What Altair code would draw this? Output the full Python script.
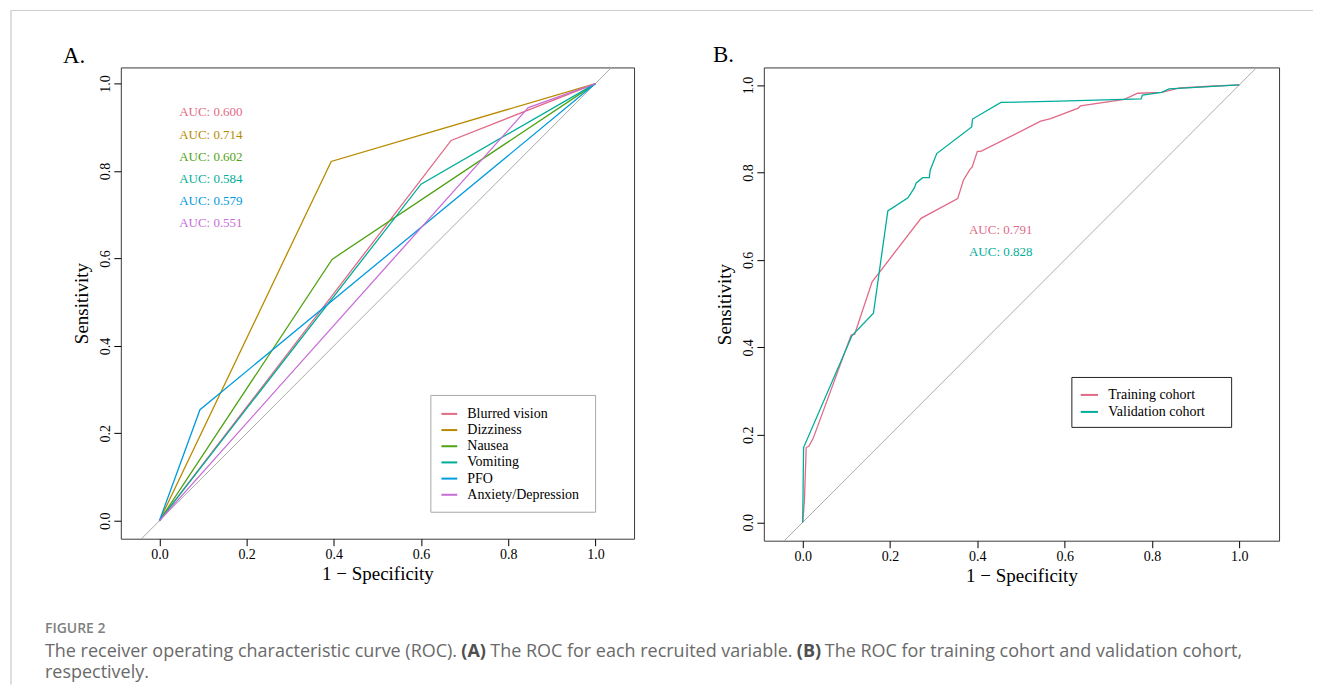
import altair as alt
import pandas as pd

# ---------------- Panel A data ----------------
series_a = ["Blurred vision", "Dizziness", "Nausea", "Vomiting", "PFO", "Anxiety/Depression"]
colors_a = ["#E16A86", "#B88A00", "#50A315", "#00AD9A", "#009ADE", "#C86DD7"]
auc_a = ["AUC: 0.600", "AUC: 0.714", "AUC: 0.602", "AUC: 0.584", "AUC: 0.579", "AUC: 0.551"]

fpr_blurred = [0.0, 0.669, 1.0]
tpr_blurred = [0.0, 0.870, 1.0]
fpr_dizziness = [0.0, 0.394, 1.0]
tpr_dizziness = [0.0, 0.822, 1.0]
fpr_nausea = [0.0, 0.396, 1.0]
tpr_nausea = [0.0, 0.598, 1.0]
fpr_vomiting = [0.0, 0.600, 1.0]
tpr_vomiting = [0.0, 0.770, 1.0]
fpr_pfo = [0.0, 0.093, 1.0]
tpr_pfo = [0.0, 0.254, 1.0]
fpr_anxiety = [0.0, 0.846, 1.0]
tpr_anxiety = [0.0, 0.945, 1.0]

# ---------------- Panel B data ----------------
series_b = ["Training cohort", "Validation cohort"]
colors_b = ["#E16A86", "#00AD9A"]
auc_b = ["AUC: 0.791", "AUC: 0.828"]

fpr_train = [0.0, 0.004, 0.008, 0.014, 0.024, 0.111, 0.119, 0.159, 0.271, 0.355, 0.368,
             0.383, 0.388, 0.400, 0.408, 0.545, 0.568, 0.631, 0.636, 0.737, 0.767, 0.822,
             0.864, 0.932, 1.0]
tpr_train = [0.0, 0.050, 0.171, 0.174, 0.192, 0.428, 0.430, 0.550, 0.695, 0.740, 0.782,
             0.807, 0.812, 0.848, 0.848, 0.917, 0.923, 0.947, 0.952, 0.967, 0.981, 0.983,
             0.993, 0.997, 1.0]
fpr_valid = [0.0, 0.002, 0.113, 0.162, 0.195, 0.241, 0.256, 0.260, 0.275, 0.290, 0.292,
             0.307, 0.387, 0.389, 0.454, 0.587, 0.775, 0.778, 0.822, 0.839, 1.0]
tpr_valid = [0.0, 0.171, 0.427, 0.478, 0.712, 0.742, 0.765, 0.776, 0.788, 0.788, 0.805,
             0.843, 0.904, 0.922, 0.960, 0.963, 0.968, 0.977, 0.983, 0.991, 1.0]

diag_vals = [-0.2, 1.2]
tick_vals = [0.0, 0.2, 0.4, 0.6, 0.8, 1.0]

caption_label = "FIGURE 2"
caption_seg1 = "The receiver operating characteristic curve (ROC)."
caption_seg2 = "(A)"
caption_seg3 = "The ROC for each recruited variable."
caption_seg4 = "(B)"
caption_seg5 = "The ROC for training cohort and validation cohort,"
caption_line2 = "respectively."

SERIF = "Liberation Serif"
SANS = "Open Sans"
NBSP = "\u00a0"


def build_df(names, fprs, tprs):
    rows = []
    for name, fx, ty in zip(names, fprs, tprs):
        for i, (x, y) in enumerate(zip(fx, ty)):
            rows.append({"series": name, "fpr": x, "tpr": y, "ord": i})
    return pd.DataFrame(rows)


df_a = build_df(series_a,
                [fpr_blurred, fpr_dizziness, fpr_nausea, fpr_vomiting, fpr_pfo, fpr_anxiety],
                [tpr_blurred, tpr_dizziness, tpr_nausea, tpr_vomiting, tpr_pfo, tpr_anxiety])
df_b = build_df(series_b, [fpr_train, fpr_valid], [tpr_train, tpr_valid])
df_diag = pd.DataFrame({"fpr": diag_vals, "tpr": diag_vals})


def axes(xdom, ydom):
    x_axis = alt.Axis(values=tick_vals, format=".1f", title="1 \u2212 Specificity",
                      labelPadding=2, titlePadding=3)
    y_axis = alt.Axis(values=tick_vals, format=".1f", title="Sensitivity",
                      labelAngle=270, labelAlign="center", labelBaseline="bottom",
                      labelPadding=1, titlePadding=7)
    xs = alt.Scale(domain=xdom, nice=False, zero=False)
    ys = alt.Scale(domain=ydom, nice=False, zero=False)
    return x_axis, y_axis, xs, ys


def panel(df, names, colors, aucs, xdom, ydom, auc_x, auc_y0, legend_xy, legend_stroke,
          legend_pad, legend_sym, legend_row, extra_w, letter, letter_xy):
    x_axis, y_axis, xs, ys = axes(xdom, ydom)
    diag = alt.Chart(df_diag).mark_line(clip=True, color="#ABABAB", strokeWidth=1).encode(
        x=alt.X("fpr:Q", scale=xs, axis=x_axis),
        y=alt.Y("tpr:Q", scale=ys, axis=y_axis),
    )
    lines = alt.Chart(df).mark_line(strokeWidth=1.3, clip=True).encode(
        x=alt.X("fpr:Q", scale=xs, axis=x_axis),
        y=alt.Y("tpr:Q", scale=ys, axis=y_axis),
        order="ord:Q",
        color=alt.Color(
            "series:N",
            scale=alt.Scale(domain=names, range=colors),
            legend=alt.Legend(
                title=NBSP, titleOrient="right", titleFontSize=1, titlePadding=extra_w,
                orient="none", legendX=legend_xy[0], legendY=legend_xy[1],
                direction="vertical", fillColor="white", strokeColor=legend_stroke,
                padding=legend_pad, symbolType="stroke", symbolStrokeWidth=2,
                symbolSize=legend_sym, labelFont=SERIF, labelFontSize=14,
                labelColor="black", rowPadding=legend_row, labelOffset=9,
            ),
        ),
    )
    auc_df = pd.DataFrame({
        "label": aucs,
        "series": names,
        "x": [auc_x] * len(aucs),
        "y": [auc_y0 - 0.0505 * i for i in range(len(aucs))],
    })
    auc = alt.Chart(auc_df).mark_text(font=SERIF, fontSize=13, align="center",
                                     baseline="middle").encode(
        x=alt.X("x:Q", scale=xs, axis=x_axis),
        y=alt.Y("y:Q", scale=ys, axis=y_axis),
        text="label:N",
        color=alt.Color("series:N", scale=alt.Scale(domain=names, range=colors), legend=None),
    )
    title = alt.Chart(pd.DataFrame({"t": [letter]})).mark_text(
        font=SERIF, fontSize=23, align="left", baseline="alphabetic", color="black"
    ).encode(x=alt.value(letter_xy[0]), y=alt.value(letter_xy[1]), text="t:N")
    return [diag, lines, auc, title]


layers_a = panel(df_a, series_a, colors_a, auc_a, [-0.0885, 1.0885], [-0.041, 1.037],
                 0.118, 0.934, (310, 328), "#A8A8A8", 10, 250, 0.2, 6, "A.", (-58, -4))
layers_b = panel(df_b, series_b, colors_b, auc_b, [-0.089, 1.091], [-0.042, 1.040],
                 0.4535, 0.668, (308, 310), "#222222", 8, 300, 0.0, 18, "B.", (-51, -5))

# ---------------- Caption & figure frame (placed relative to panel A) ----------------
cap_color = "#6a6a6a"


def txt(s, x, y, size, weight="normal", color=cap_color, font=SANS):
    return alt.Chart(pd.DataFrame({"t": [s]})).mark_text(
        font=font, fontSize=size, fontWeight=weight, align="left", baseline="middle",
        color=color
    ).encode(x=alt.value(x), y=alt.value(y), text="t:N")


cap_y0 = 562
caption_layers = [
    txt(caption_label, -76, cap_y0, 14, weight=600, color="#808080"),
    txt(caption_seg1, -76, cap_y0 + 23, 18),
    txt(caption_seg2, 341, cap_y0 + 23, 18, weight="bold", color="#505050"),
    txt(caption_seg3, 370, cap_y0 + 23, 18),
    txt(caption_seg4, 677, cap_y0 + 23, 18, weight="bold", color="#505050"),
    txt(caption_seg5, 705, cap_y0 + 23, 18),
    txt(caption_line2, -76, cap_y0 + 45, 18),
]

frame_df = pd.DataFrame({"k": [0]})
frame_top = alt.Chart(frame_df).mark_rule(color="#CFCFCF", strokeWidth=1).encode(
    x=alt.value(-110), x2=alt.value(1194), y=alt.value(-57))
frame_left = alt.Chart(frame_df).mark_rule(color="#BDBDBD", strokeWidth=1).encode(
    x=alt.value(-110), y=alt.value(-57), y2=alt.value(618))

panel_a = alt.layer(frame_top, frame_left, *layers_a, *caption_layers).properties(
    width=514, height=472)
panel_b = alt.layer(*layers_b).properties(width=516, height=474)

chart = (
    alt.hconcat(panel_a, panel_b, spacing=130, bounds="flush")
    .resolve_scale(color="independent", x="independent", y="independent")
    .resolve_legend(color="independent")
    .properties(padding={"left": 2, "top": 1, "right": 0, "bottom": 0},
                background="white")
    .configure_view(stroke="#3a3a3a", strokeWidth=1)
    .configure_axis(
        grid=False, domain=False, tickColor="black", tickSize=7, tickWidth=1,
        labelFont=SERIF, labelFontSize=14, labelColor="black", labelFlush=False,
        labelOverlap=False, titleFont=SERIF, titleFontSize=19, titleFontWeight="normal",
        titleColor="black",
    )
)

chart.save("out.html", embed_options={"renderer": "svg", "actions": False})
